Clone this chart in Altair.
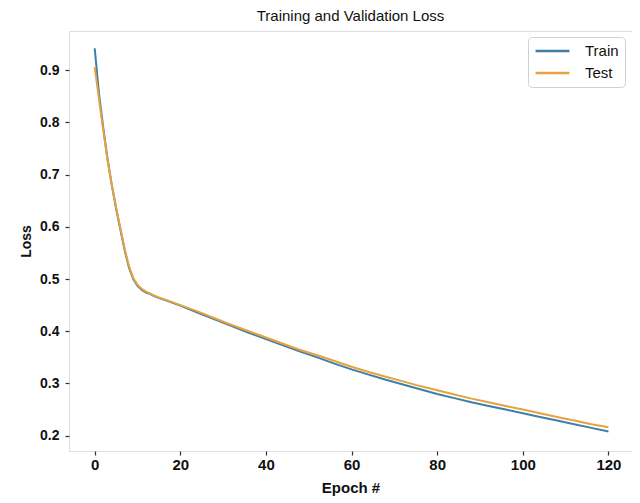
import altair as alt
import pandas as pd

epochs = list(range(0, 17)) + list(range(20, 121, 4))
train_loss = [0.942, 0.855, 0.790, 0.730, 0.680, 0.635, 0.595, 0.555, 0.522, 0.500,
              0.487, 0.479, 0.474, 0.471, 0.467, 0.464, 0.461,
              0.449, 0.436, 0.423, 0.410, 0.397, 0.385, 0.373, 0.361, 0.350, 0.338,
              0.327, 0.317, 0.307, 0.298, 0.289, 0.280, 0.272, 0.264, 0.257, 0.250,
              0.243, 0.236, 0.229, 0.222, 0.215, 0.208]
test_loss = [0.906, 0.845, 0.785, 0.728, 0.680, 0.637, 0.597, 0.558, 0.525, 0.502,
             0.489, 0.481, 0.476, 0.472, 0.468, 0.465, 0.462,
             0.450, 0.438, 0.425, 0.412, 0.400, 0.388, 0.376, 0.364, 0.354, 0.343,
             0.332, 0.322, 0.313, 0.304, 0.295, 0.287, 0.279, 0.271, 0.264, 0.257,
             0.250, 0.243, 0.236, 0.229, 0.222, 0.216]
series_names = ["Train", "Test"]
series_colors = ["#3d7fa8", "#e6a23c"]
x_ticks = [0, 20, 40, 60, 80, 100, 120]
y_ticks = [0.2, 0.3, 0.4, 0.5, 0.6, 0.7, 0.8, 0.9]

df = pd.DataFrame({
    "epoch": epochs * 2,
    "loss": train_loss + test_loss,
    "series": ["Train"] * len(epochs) + ["Test"] * len(epochs),
})

FONT = "Liberation Sans"

x = alt.X("epoch:Q",
          scale=alt.Scale(domain=[-6, 125.5], nice=False, zero=False),
          axis=alt.Axis(values=x_ticks, title="Epoch #", grid=False, domain=False,
                        tickSize=4, tickColor="#333333", tickWidth=1.2,
                        labelFont=FONT, labelFontSize=15, labelFontWeight="bold",
                        labelColor="#111111", labelPadding=2, labelFlush=False,
                        titleFont=FONT, titleFontSize=15, titleFontWeight="bold",
                        titleColor="#111111", titlePadding=8))
y = alt.Y("loss:Q",
          scale=alt.Scale(domain=[0.1707, 0.975], nice=False, zero=False),
          axis=alt.Axis(values=y_ticks, format=".1f", title="Loss", grid=False, domain=False,
                        tickSize=4, tickColor="#333333", tickWidth=1.2,
                        labelFont=FONT, labelFontSize=14, labelFontWeight="bold",
                        labelColor="#111111", labelPadding=6, labelFlush=False,
                        titleFont=FONT, titleFontSize=14, titleFontWeight="bold",
                        titleColor="#111111", titlePadding=6))
color = alt.Color("series:N",
                  scale=alt.Scale(domain=series_names, range=series_colors),
                  legend=alt.Legend(title=None, orient="none", legendX=459, legendY=6,
                                    symbolType="stroke", symbolSize=1150, symbolStrokeWidth=2.5,
                                    clipHeight=16,
                                    labelFont=FONT, labelFontSize=15, labelColor="#111111",
                                    labelOffset=14, rowPadding=6, padding=6,
                                    strokeColor="#d0d0d0", fillColor="white",
                                    cornerRadius=4))

base = alt.Chart(df)
train_line = base.transform_filter(alt.datum.series == "Train").mark_line(strokeWidth=2).encode(x=x, y=y, color=color)
test_line = base.transform_filter(alt.datum.series == "Test").mark_line(strokeWidth=2).encode(x=x, y=y, color=color)

chart = alt.layer(train_line, test_line).properties(
    width=563, height=420,
    title=alt.Title("Training and Validation Loss", font=FONT, fontSize=15,
                    fontWeight="normal", color="#111111", offset=7, anchor="middle"),
    autosize=alt.AutoSizeParams(type="none"),
    padding={"left": 61, "top": 23, "right": 0, "bottom": 52},
).configure_view(stroke="#333333", strokeWidth=1.2).configure(background="white")

chart.save("out.html", embed_options={"renderer": "svg", "actions": False})
